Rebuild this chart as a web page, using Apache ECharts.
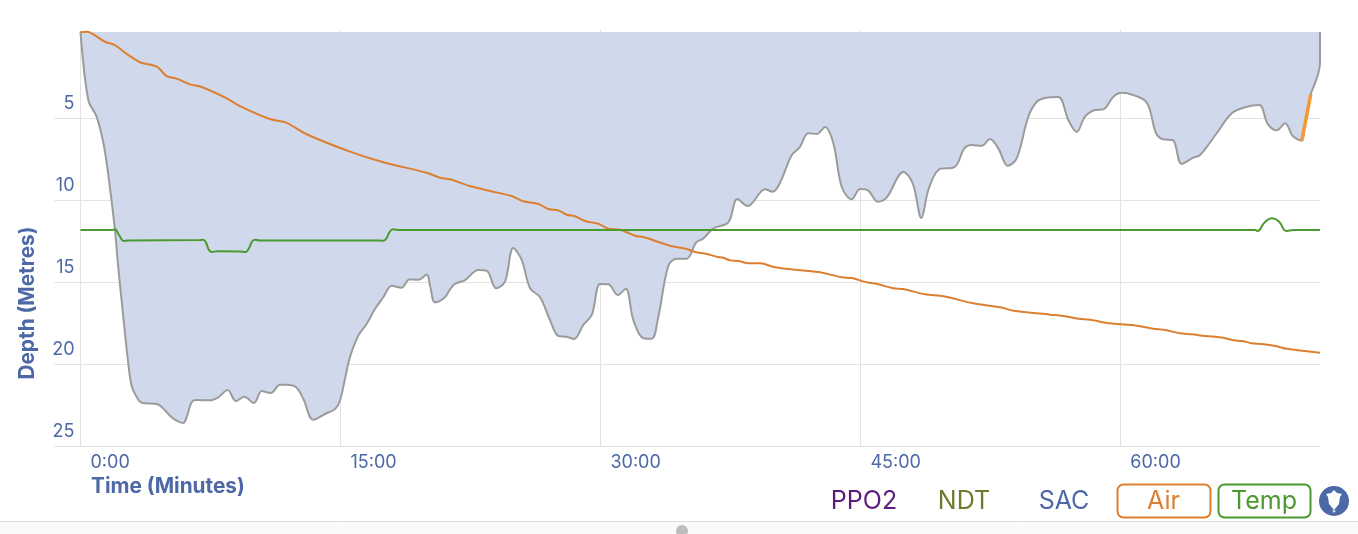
<!DOCTYPE html>
<html><head><meta charset="utf-8">
<style>html,body{margin:0;padding:0;background:#fff}#c{width:1358px;height:534px}</style>
<script src="https://cdn.jsdelivr.net/npm/echarts@6/dist/echarts.min.js"></script>
</head><body><div id="c"></div>
<script>
const depthTicks = [5,10,15,20,25];
const timeTicks = [0,15,30,45,60];
const legendPlain = ['PPO2','NDT','SAC'];
const legendBoxed = ['Air','Temp'];

const profileTime = [0,.45,.93,1.32,1.59,1.99,2.16,2.47,2.76,2.95,3.24,3.53,4.40,4.69,5.16,5.55,5.93,6.13,6.42,6.71,7.47,7.95,8.49,8.97,9.45,10.01,10.46,10.98,11.51,11.90,12.44,12.86,13.43,14.11,14.69,14.97,15.26,15.55,16.03,16.51,16.99,17.47,17.96,18.53,18.97,19.49,19.98,20.17,20.46,21.03,21.32,21.61,22.19,22.95,23.44,23.98,24.49,24.97,25.46,25.94,26.52,27.09,27.57,28.06,28.48,29.01,29.50,29.98,30.46,31.0,31.46,31.90,32.48,32.96,33.34,33.92,34.40,34.98,35.52,35.94,36.52,37.38,37.90,38.50,39.50,39.94,40.36,41.04,41.48,42.0,42.48,42.96,43.44,43.92,44.50,44.98,45.46,46.0,46.52,47.48,48.02,48.52,48.92,49.50,50.46,51.0,51.43,52.0,52.48,52.96,53.50,54.02,54.69,55.18,55.66,56.42,57.0,57.48,57.96,58.54,59.02,59.60,60.08,60.75,61.43,61.71,62.06,62.48,63.02,63.54,64.21,64.60,65.56,66.43,67.29,68.02,68.51,69.03,69.51,69.95,70.47,70.60,70.86,70.99,71.23,71.42,71.52,71.52];
const profileDepth = [-.25,3.90,4.92,6.52,8.35,11.83,13.90,17.13,20.0,21.32,22.01,22.36,22.44,22.62,23.15,23.46,23.60,23.23,22.32,22.20,22.21,22.03,21.59,22.26,21.99,22.38,21.65,21.77,21.26,21.26,21.42,22.13,23.40,23.05,22.74,22.24,20.91,19.57,18.27,17.56,16.65,15.93,15.23,15.35,14.84,14.86,14.55,15.23,16.24,15.93,15.45,15.12,14.88,14.27,14.31,15.38,14.98,12.93,13.66,15.38,15.93,17.32,18.29,18.34,18.48,17.62,17.01,15.12,15.14,15.79,15.41,17.32,18.43,18.46,17.12,14.01,13.58,13.58,12.60,12.34,11.73,11.36,9.94,10.37,9.35,9.49,8.95,7.26,6.81,5.93,5.98,5.55,6.54,9.19,9.96,9.33,9.43,10.10,9.84,8.29,8.98,11.10,9.39,8.17,7.97,6.85,6.65,6.69,6.28,6.85,7.91,7.46,4.92,4.01,3.78,3.72,5.12,5.85,4.92,4.51,4.47,3.70,3.46,3.60,3.95,4.51,5.93,6.30,6.34,7.80,7.42,7.26,5.93,4.71,4.31,4.21,5.37,5.75,5.32,6.10,6.38,5.67,4.25,3.54,2.88,2.27,1.65,-.25];

// Air and Temp have no printed scale of their own: these are their heights read on the depth axis.
const airTime = [0,.39,.74,1.41,1.99,2.57,3.43,4.40,4.97,5.55,6.32,6.99,8.44,9.20,10.93,11.90,13.05,15.55,17.47,19.98,20.74,21.32,22.47,23.63,24.88,25.55,26.42,26.99,27.57,28.06,28.53,29.11,29.88,30.46,31.13,32.0,32.48,34.02,34.98,35.46,36.13,36.71,37.09,37.48,37.96,38.53,39.21,40.08,41.52,42.67,43.92,44.50,45.37,46.04,46.90,47.48,48.73,49.79,51.52,53.06,53.83,55.94,56.71,57.58,58.25,59.41,60.66,61.90,62.58,63.44,64.12,64.89,65.94,66.52,67.06,67.58,68.16,69.03,69.60,71.52];
const airLevel = [-.23,-.26,-.10,.35,.55,1.02,1.60,1.87,2.44,2.60,2.95,3.11,3.80,4.27,5.06,5.30,5.99,7.05,7.70,8.34,8.64,8.74,9.15,9.45,9.76,10.08,10.24,10.55,10.63,10.90,10.99,11.28,11.45,11.75,11.81,12.18,12.26,12.79,12.99,13.17,13.29,13.46,13.52,13.68,13.72,13.86,13.86,14.10,14.29,14.41,14.71,14.76,15.02,15.14,15.38,15.43,15.75,15.87,16.30,16.54,16.75,16.99,17.07,17.24,17.30,17.52,17.62,17.85,17.93,18.13,18.19,18.29,18.40,18.55,18.60,18.74,18.78,18.92,19.07,19.31];
const tempTime = [0,1.82,1.99,2.22,2.51,2.74,6.90,7.07,7.57,7.93,9.20,9.49,10.07,10.36,17.28,17.46,18.05,18.44,67.77,67.90,68.35,68.74,69.12,69.61,69.98,71.52];
const tempLevel = [11.83,11.83,11.79,12.13,12.50,12.47,12.44,12.42,13.17,13.12,13.14,13.17,12.42,12.47,12.47,12.49,11.79,11.83,11.83,11.89,11.34,11.12,11.28,11.89,11.83,11.83];
const highlightTime = [70.47,70.99];
const highlightDepth = [6.38,3.54];

const zip = (a,b) => a.map((v,i) => [v,b[i]]);
const FONT = 'Inter, "Noto Sans", sans-serif';
const BLUE = '#4c68a6', GRID = '#e2e2e2';
const chart = echarts.init(document.getElementById('c'), null, {renderer:'canvas'});

const legendColors = {PPO2:'#5e1c7c',NDT:'#6d7b2c',SAC:'#4c68a6',Air:'#dd7f30',Temp:'#4b9a2f'};
const plainX = {PPO2:864,NDT:964,SAC:1064};
const boxes = {Air:[1117,93],Temp:[1218,92]};
const graphic = [
  {type:'rect',shape:{x:0,y:521,width:1358,height:13},style:{fill:'#fafafa'},silent:true,z:1},
  {type:'line',shape:{x1:0,y1:521.5,x2:1358,y2:521.5},style:{stroke:'#dcdcdc',lineWidth:1},z:2},
  {type:'circle',shape:{cx:682,cy:531,r:6},style:{fill:'#bdbdbd'},z:2},
  {type:'text',x:28,y:303,rotation:Math.PI/2,style:{text:'Depth (Metres)',fill:BLUE,font:'bold 20.8px '+FONT,align:'center',verticalAlign:'middle'}},
  {type:'text',x:91,y:487,style:{text:'Time (Minutes)',fill:BLUE,font:'bold 20.8px '+FONT,align:'left',verticalAlign:'middle'}},
  ...legendPlain.map(n=>({type:'text',x:plainX[n],y:501,style:{text:n,fill:legendColors[n],font:'25px '+FONT,align:'center',verticalAlign:'middle'}})),
  ...legendBoxed.flatMap(n=>[
    {type:'rect',shape:{x:boxes[n][0]+.5,y:484.5,width:boxes[n][1],height:33,r:6},style:{fill:'#fff',stroke:legendColors[n],lineWidth:2}},
    {type:'text',x:boxes[n][0]+boxes[n][1]/2,y:501,style:{text:n,fill:legendColors[n],font:'25px '+FONT,align:'center',verticalAlign:'middle'}}
  ]),
  {type:'circle',shape:{cx:1334,cy:501,r:15},style:{fill:'#4c68a6'}},
  {type:'polygon',shape:{points:[[1334,490],[1331,493],[1326,494],[1328,497],[1329,504],[1334,510],[1339,504],[1340,497],[1342,494],[1337,493]]},style:{fill:'#fff'}},
  {type:'circle',shape:{cx:1334,cy:511,r:1.5},style:{fill:'#c9d2e6'}}
];

chart.setOption({
  animation:false,
  backgroundColor:'#ffffff',
  grid:{left:80.5,right:38,top:30,bottom:88,containLabel:false},
  xAxis:{type:'value',min:0,max:71.52,
    axisLine:{show:false},
    axisTick:{show:true,length:21,lineStyle:{color:GRID,width:1},customValues:timeTicks},
    splitLine:{show:true,lineStyle:{color:GRID,width:1}},
    axisLabel:{color:BLUE,fontFamily:FONT,fontSize:18,margin:8,align:'left',verticalAlign:'top',padding:[0,0,0,10],
      customValues:timeTicks,formatter:v=>v+':00',hideOverlap:false}},
  yAxis:{type:'value',inverse:true,min:-0.366,max:25,
    axisLine:{show:false},
    axisTick:{show:true,length:26,lineStyle:{color:GRID,width:1},customValues:depthTicks},
    splitLine:{show:true,lineStyle:{color:GRID,width:1}},
    axisLabel:{color:BLUE,fontFamily:FONT,fontSize:18,margin:6,align:'right',verticalAlign:'bottom',padding:[0,0,5,0],
      customValues:depthTicks,hideOverlap:false}},
  series:[
    {name:'Depth',type:'line',data:zip(profileTime,profileDepth),smooth:0.35,showSymbol:false,
      lineStyle:{color:'#9b9b9b',width:2},areaStyle:{color:'#d0d9ec',opacity:1,origin:-0.25},z:2},
    {name:'Air',type:'line',data:zip(airTime,airLevel),smooth:0.3,showSymbol:false,lineStyle:{color:'#dd7f30',width:2},z:4},
    {name:'Temp',type:'line',data:zip(tempTime,tempLevel),smooth:0.5,showSymbol:false,lineStyle:{color:'#4b9a2f',width:2},z:4},
    {name:'Highlight',type:'line',data:zip(highlightTime,highlightDepth),showSymbol:false,lineStyle:{color:'#f39a34',width:3.5},z:5}
  ],
  graphic
});
</script></body></html>
